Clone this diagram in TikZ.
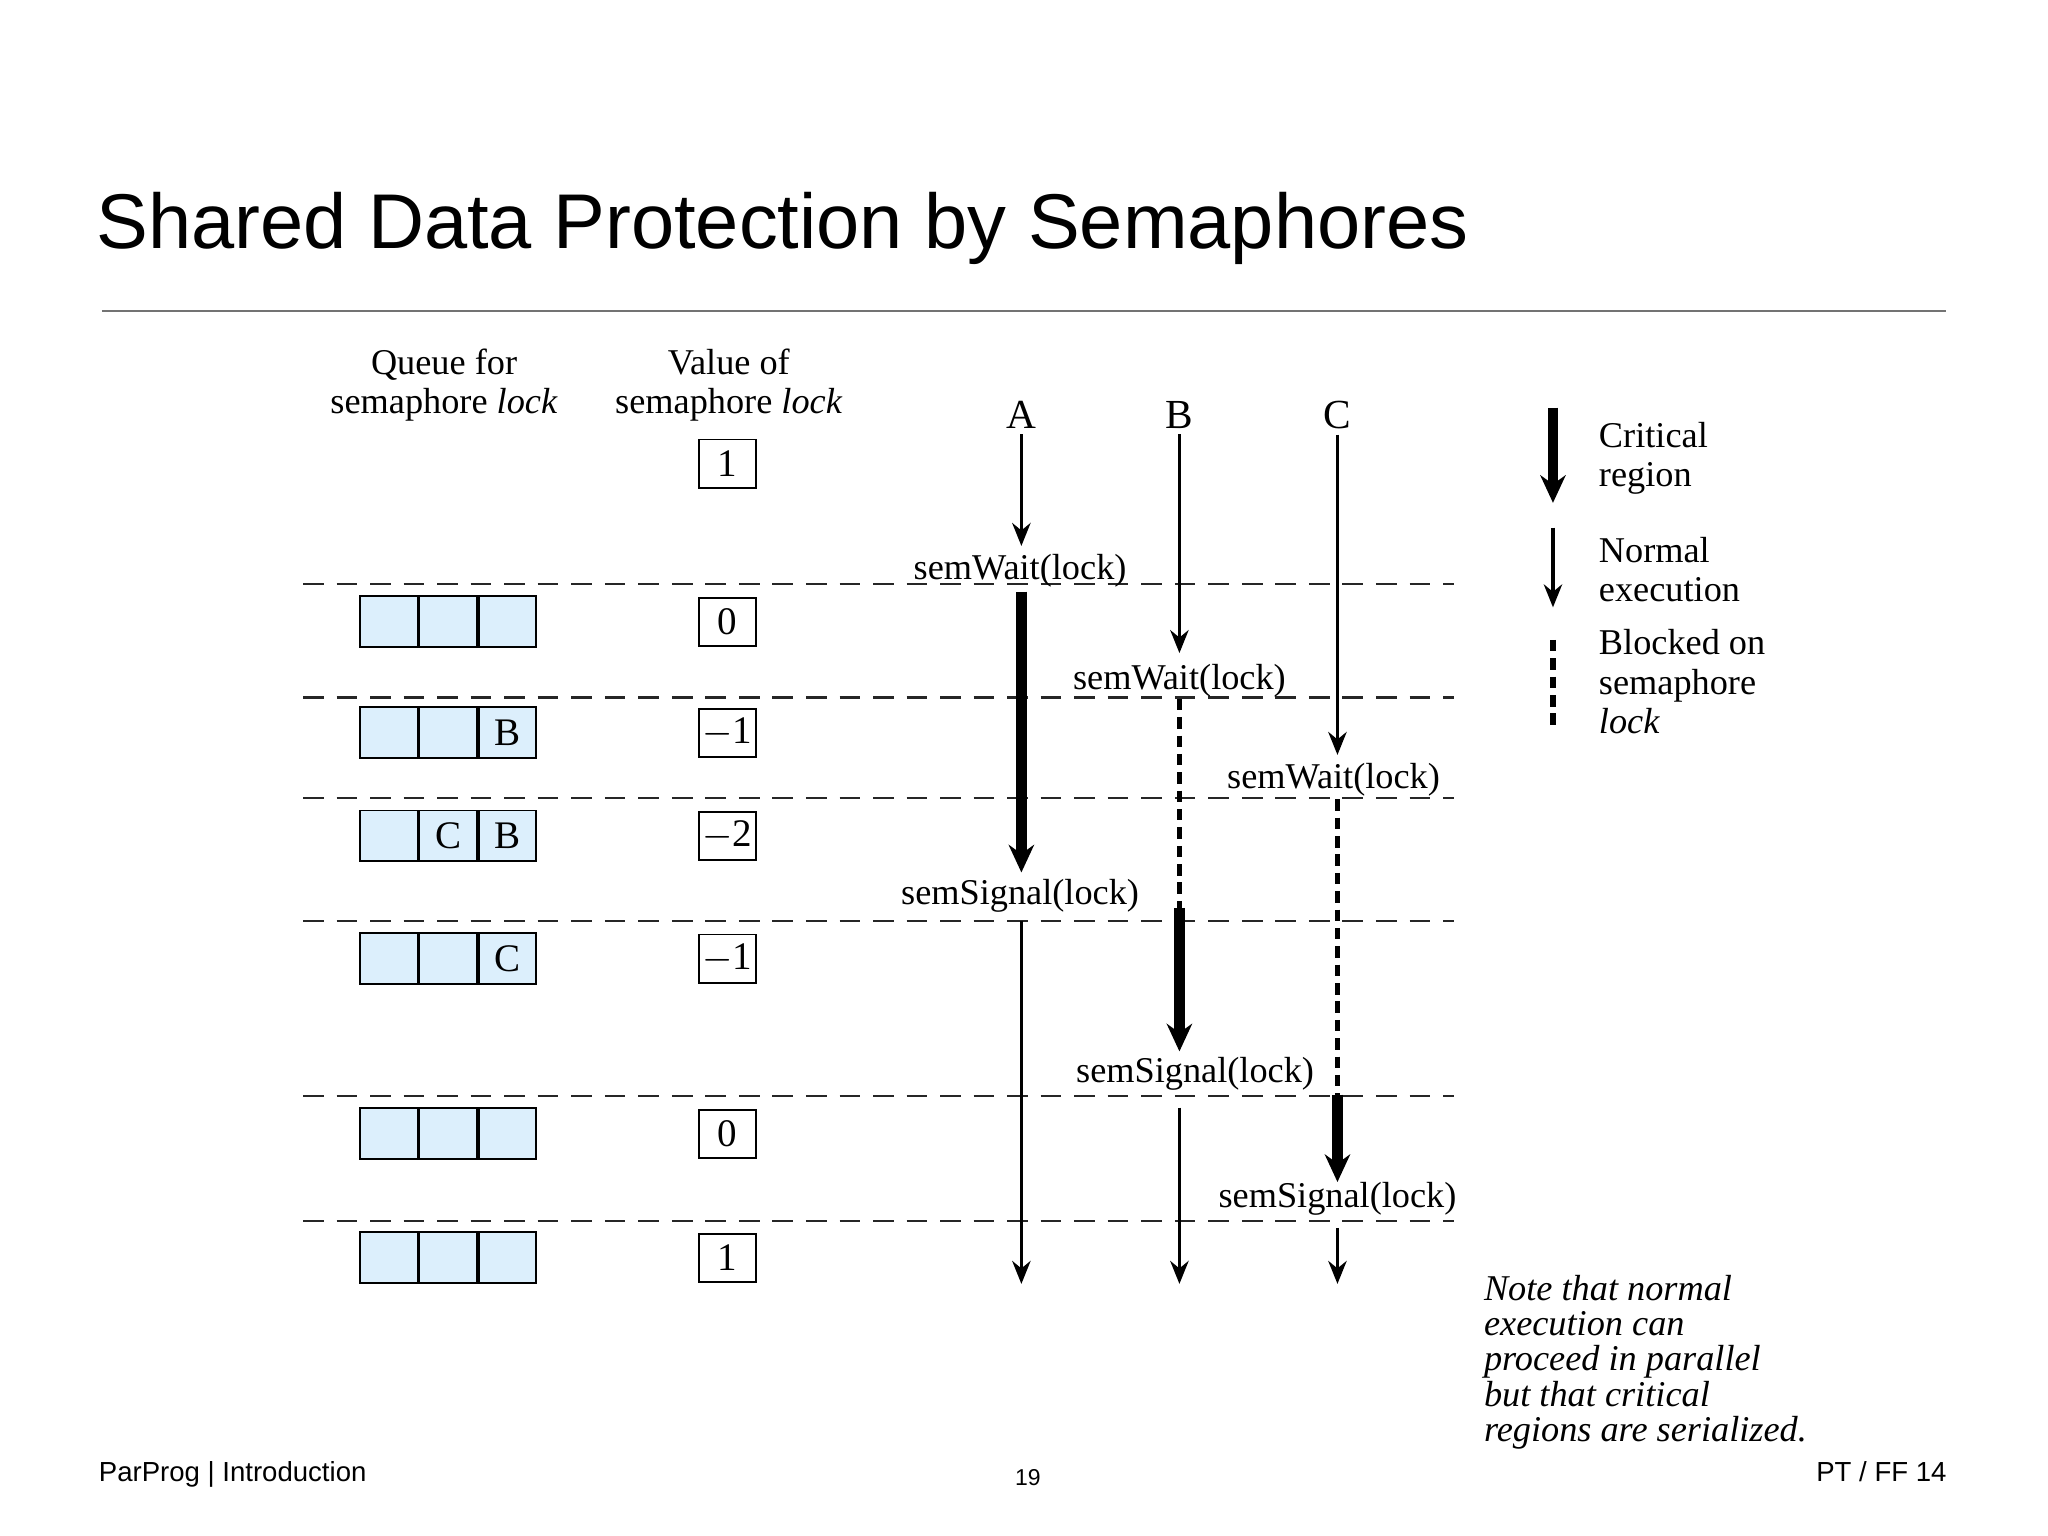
\documentclass[tikz,border=0pt]{standalone}
\usepackage{fontspec}
\setmainfont{Liberation Serif}
\newfontfamily\hel{Liberation Sans}
\usetikzlibrary{arrows.meta}
\definecolor{qblue}{HTML}{DCEFFC}
\tikzset{
  lbl/.style={font=\fontsize{7.9}{8.6}\selectfont, inner sep=1pt},
  qcell/.style={draw, fill=qblue, minimum width=12.5pt, minimum height=11.1pt, inner sep=0pt, anchor=west, font=\fontsize{8.5}{9}\selectfont},
  vbox/.style={draw, fill=white, minimum width=12.5pt, minimum height=10.5pt, inner sep=0pt, font=\fontsize{8.5}{9}\selectfont},
  sep/.style={dash pattern=on 4.5pt off 2.8pt, line width=0.5pt, draw=black!85},
  normal/.style={line width=0.7pt, -{Stealth[length=5pt,width=4pt]}},
  crit/.style={line width=2.3pt, -{Stealth[length=6pt,width=5.5pt]}},
  blocked/.style={line width=1.1pt, dash pattern=on 2.5pt off 1.5pt},
}
\begin{document}
\begin{tikzpicture}[x=0.01cm,y=-0.01cm]
\useasboundingbox (0,0) rectangle (1568,1176);
% title
\node[anchor=base west, inner sep=0pt, font=\hel\fontsize{16.9}{20}\selectfont] (title) at (73,190) {Shared Data Protection by Semaphores};
\draw[black!55, line width=0.5pt] (78,238) -- (1490,238);
% footer
\node[anchor=base west, inner sep=0pt, font=\hel\fontsize{6}{7}\selectfont] (f1) at (75,1134) {ParProg | Introduction};
\node[anchor=base, inner sep=0pt, font=\hel\fontsize{5}{6}\selectfont] (f2) at (787,1137) {19};
\node[anchor=base east, inner sep=0pt, font=\hel\fontsize{6}{7}\selectfont] (f3) at (1491,1134) {PT / FF 14};
% headers
\node[lbl, align=center] (hq) at (340,295) {Queue for\\semaphore \textit{lock}};
\node[lbl, align=center] (hv) at (558,295) {Value of\\semaphore \textit{lock}};
\node[lbl, font=\fontsize{9}{10}\selectfont] (pA) at (782,318) {A};
\node[lbl, font=\fontsize{9}{10}\selectfont] (pB) at (903,318) {B};
\node[lbl, font=\fontsize{9}{10}\selectfont] (pC) at (1024,318) {C};
% dashed separators
\foreach \y in {447,534,611,705,839,935}
  \draw[sep] (232,\y) -- (1113,\y);
% queues
\foreach \y/\a/\b/\c [count=\i] in {476/{}/{}/{}, 561/{}/{}/B, 640/{}/C/B, 734/{}/{}/C, 868/{}/{}/{}, 963/{}/{}/{}}{
  \node[qcell] (q\i a) at (275,\y) {\a};
  \node[qcell] (q\i b) at (q\i a.east) {\b};
  \node[qcell] (q\i c) at (q\i b.east) {\c};
}
% values
\node[vbox] (v0) at (557,355) {1};
\node[vbox] (v1) at (557,476) {0};
\node[vbox] (v2) at (557,561) {$-$1};
\node[vbox] (v3) at (557,640) {$-$2};
\node[vbox] (v4) at (557,734) {$-$1};
\node[vbox] (v5) at (557,868) {0};
\node[vbox] (v6) at (557,963) {1};
% labels
\node[lbl] (wA) at (781,437) {semWait(lock)};
\node[lbl] (wB) at (903,521) {semWait(lock)};
\node[lbl] (wC) at (1021,597) {semWait(lock)};
\node[lbl] (sA) at (781,686) {semSignal(lock)};
\node[lbl] (sB) at (915,822) {semSignal(lock)};
\node[lbl] (sC) at (1024,918) {semSignal(lock)};
% process A
\coordinate (a1) at (782,418);
\coordinate (a2) at (782,668);
\coordinate (a3) at (782,983);
\draw[normal] (pA.south) -- (a1);
\draw[crit] (782,453) -- (a2);
\draw[normal] (782,705) -- (a3);
% process B
\coordinate (b1) at (903,500);
\coordinate (b2) at (903,695);
\coordinate (b3) at (903,805);
\coordinate (b4) at (903,983);
\draw[normal] (pB.south) -- (b1);
\draw[blocked] (903,535) -- (b2);
\draw[crit] (b2) -- (b3);
\draw[normal] (903,848) -- (b4);
% process C
\coordinate (c1) at (1024,578);
\coordinate (c2) at (1024,838);
\coordinate (c3) at (1024,905);
\coordinate (c4) at (1024,983);
\draw[normal] (pC.south) -- (c1);
\draw[blocked] (1024,612) -- (c2);
\draw[crit] (c2) -- (c3);
\draw[normal] (1024,940) -- (c4);
% legend
\draw[crit] (1189,312) -- (1189,385);
\node[lbl, anchor=west, align=left] (l1) at (1220,351) {Critical\\region};
\draw[normal] (1189,404) -- (1189,465);
\node[lbl, anchor=west, align=left] (l2) at (1220,436) {Normal\\execution};
\draw[blocked] (1189,490) -- (1189,555);
\node[lbl, anchor=west, align=left] (l3) at (1220,522) {Blocked on\\semaphore\\\textit{lock}};
% note
\node[lbl, anchor=north west, align=left, font=\itshape\fontsize{7.9}{7.7}\selectfont] (note) at (1132,972) {Note that normal\\execution can\\proceed in parallel\\but that critical\\regions are serialized.};
\end{tikzpicture}
\end{document}
